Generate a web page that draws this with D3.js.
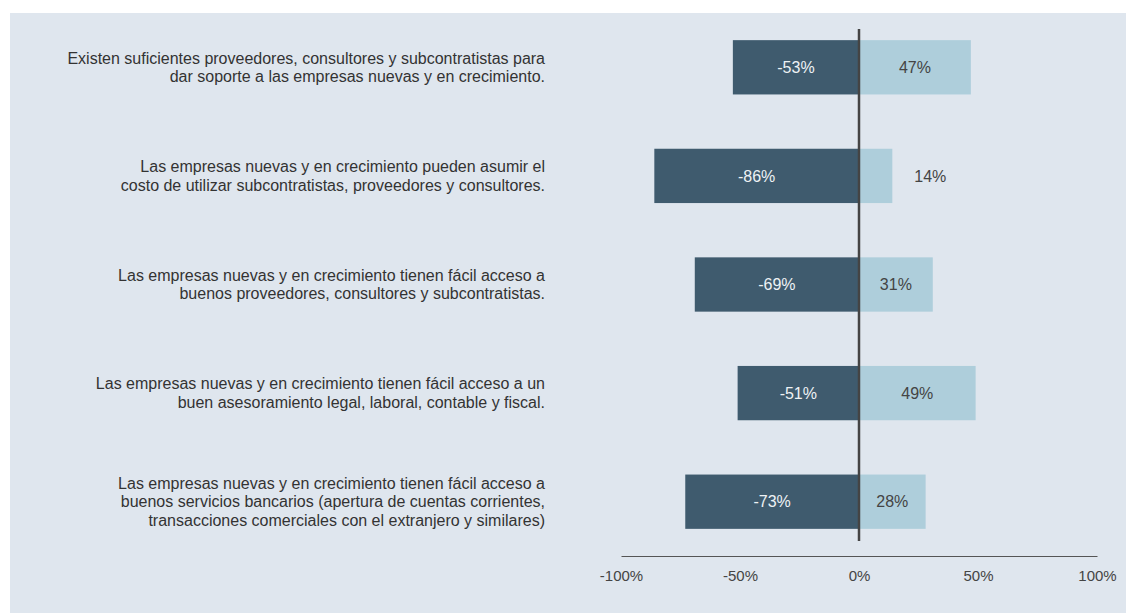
<!DOCTYPE html>
<html>
<head>
<meta charset="utf-8">
<script src="https://cdn.jsdelivr.net/npm/d3@7"></script>
<style>
  body { margin: 0; background: #fff; }
  svg { display: block; font-family: "Liberation Sans", Arial, sans-serif; }
</style>
</head>
<body>
<div id="chart"></div>
<script>
// statements, one per row (lines split as in the original)
let categories = [
    ["Existen suficientes proveedores, consultores y subcontratistas para", "dar soporte a las empresas nuevas y en crecimiento."],
    ["Las empresas nuevas y en crecimiento pueden asumir el", "costo de utilizar subcontratistas, proveedores y consultores."],
    ["Las empresas nuevas y en crecimiento tienen fácil acceso a", "buenos proveedores, consultores y subcontratistas."],
    ["Las empresas nuevas y en crecimiento tienen fácil acceso a un", "buen asesoramiento legal, laboral, contable y fiscal."],
    ["Las empresas nuevas y en crecimiento tienen fácil acceso a", "buenos servicios bancarios (apertura de cuentas corrientes,", "transacciones comerciales con el extranjero y similares)"]
];
let negValues = [-53, -86, -69, -51, -73];
let posValues = [47, 14, 31, 49, 28];
let tickValues = [-100, -50, 0, 50, 100];

let W = 1126, H = 613;

let svg = d3.select("#chart").append("svg")
    .attr("width", W)
    .attr("height", H);

svg.append("rect")
    .attr("x", 10).attr("y", 13)
    .attr("width", W - 10).attr("height", H - 13)
    .attr("fill", "#dfe6ee");

let xScale = d3.scaleLinear().domain([-100, 100]).range([621, 1097]);
let yScale = d3.scaleBand()
    .domain(d3.range(categories.length))
    .range([13, 556])
    .paddingInner(0.5)
    .paddingOuter(0.25);

// bottom axis
let axis = svg.append("g")
    .attr("transform", "translate(0,556)")
    .call(d3.axisBottom(xScale).tickValues(tickValues).tickSize(0).tickPadding(14).tickFormat(d => d + "%"));
axis.select(".domain").attr("stroke", "#555").attr("stroke-width", 1.2);
axis.selectAll("text").attr("font-size", 15).attr("fill", "#444")
    .attr("font-family", "Liberation Sans, Arial, sans-serif");

// negative bars
svg.selectAll(".neg").data(negValues).enter().append("rect")
    .attr("class", "neg")
    .attr("x", d => xScale(d))
    .attr("y", (d, i) => yScale(i))
    .attr("width", d => xScale(0) - xScale(d))
    .attr("height", yScale.bandwidth())
    .attr("fill", "#3f5b6e");

// positive bars
svg.selectAll(".pos").data(posValues).enter().append("rect")
    .attr("class", "pos")
    .attr("x", xScale(0))
    .attr("y", (d, i) => yScale(i))
    .attr("width", d => xScale(d) - xScale(0))
    .attr("height", yScale.bandwidth())
    .attr("fill", "#aecedb");

// value labels
svg.selectAll(".negLbl").data(negValues).enter().append("text")
    .attr("x", d => (xScale(d) + xScale(0)) / 2)
    .attr("y", (d, i) => yScale(i) + yScale.bandwidth() / 2)
    .attr("dy", "0.35em")
    .attr("text-anchor", "middle")
    .attr("font-size", 16)
    .attr("fill", "#eef2f5")
    .text(d => d + "%");

svg.selectAll(".posLbl").data(posValues).enter().append("text")
    .attr("x", d => d < 20 ? xScale(d) + 38 : (xScale(d) + xScale(0)) / 2)
    .attr("y", (d, i) => yScale(i) + yScale.bandwidth() / 2)
    .attr("dy", "0.35em")
    .attr("text-anchor", "middle")
    .attr("font-size", 16)
    .attr("fill", "#444")
    .text(d => d + "%");

// zero line
svg.append("line")
    .attr("x1", xScale(0)).attr("x2", xScale(0))
    .attr("y1", 29).attr("y2", 541)
    .attr("stroke", "#444").attr("stroke-width", 2.5);

// category labels
let lineH = 18.5;
categories.forEach((lines, i) => {
    let cy = yScale(i) + yScale.bandwidth() / 2;
    let t = svg.append("text")
        .attr("text-anchor", "end")
        .attr("font-size", 16)
        .attr("fill", "#333");
    lines.forEach((ln, j) => {
        t.append("tspan")
            .attr("x", 545)
            .attr("y", cy + (j - (lines.length - 1) / 2) * lineH)
            .attr("dy", "0.35em")
            .text(ln);
    });
});
</script>
</body>
</html>
